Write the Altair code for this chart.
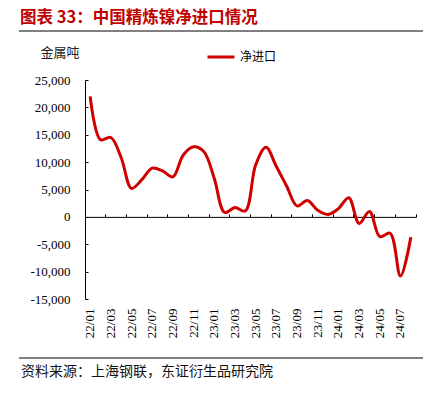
import altair as alt
import pandas as pd

# ---------------- data ----------------
months = ['22/01', '22/02', '22/03', '22/04', '22/05', '22/06', '22/07', '22/08',
          '22/09', '22/10', '22/11', '22/12', '23/01', '23/02', '23/03', '23/04',
          '23/05', '23/06', '23/07', '23/08', '23/09', '23/10', '23/11', '23/12',
          '24/01', '24/02', '24/03', '24/04', '24/05', '24/06', '24/07', '24/08']
net_import = [22000, 14100, 14500, 10800, 5200, 6800, 8900, 8400,
              7300, 11300, 12800, 11900, 7000, 800, 1700, 1100,
              9500, 12700, 9200, 5600, 2000, 3000, 1200, 450,
              1500, 3500, -1200, 1000, -3600, -3000, -10800, -3700]
series_name = '净进口'
y_ticks = [-15000, -10000, -5000, 0, 5000, 10000, 15000, 20000, 25000]
title_text = '图表 33：中国精炼镍净进口情况'
unit_text = '金属吨'
source_text = '资料来源：上海钢联，东证衍生品研究院'

# ---------------- layout ----------------
W, H = 331, 219
ymin, ymax = -15000, 25000
zero_px = H * ymax / (ymax - ymin)
line_color = '#d00000'
serif = 'Liberation Serif'
cjk = 'Noto Sans CJK SC'

df = pd.DataFrame({'month': months, 'value': net_import,
                   'series': [series_name] * len(months)})

xscale = alt.Scale(type='band', paddingInner=0, paddingOuter=0, domain=months)
yscale = alt.Scale(domain=[ymin, ymax], nice=False, zero=False)

label_months = months[0::2]
tick_months = months[1::2]

base = alt.Chart(df)

line = base.mark_line(interpolate='catmull-rom', strokeWidth=3).encode(
    x=alt.X('month:O', scale=xscale, bandPosition=0.5, sort=months,
            axis=alt.Axis(orient='bottom', values=label_months, labelAngle=270,
                          labelFont=serif, labelFontSize=13, labelColor='#000',
                          labelPadding=9, ticks=False, tickSize=0, domain=False,
                          title=None, labelAlign='right', labelBaseline='middle',
                          grid=False)),
    y=alt.Y('value:Q', scale=yscale,
            axis=alt.Axis(orient='left', values=y_ticks,
                          labelExpr="replace(format(datum.value, ','), '\u2212', '-')",
                          labelFont=serif, labelFontSize=13, labelColor='#000',
                          labelPadding=15, ticks=False, tickSize=0, domain=True,
                          domainColor='#000', domainWidth=1, title=None, grid=False)),
    color=alt.Color('series:N', scale=alt.Scale(domain=[series_name], range=[line_color]),
                    legend=alt.Legend(orient='none', legendX=121, legendY=-38, title=None,
                                      symbolType='stroke', symbolSize=729,
                                      symbolStrokeWidth=3, labelFont=cjk,
                                      labelFontSize=12, labelColor='#000',
                                      padding=0, labelOffset=4)),
)

axes_layer = base.mark_line(strokeOpacity=0).encode(
    x=alt.X('month:O', scale=xscale, bandPosition=0.5, sort=months,
            axis=alt.Axis(orient='top', offset=-zero_px, values=tick_months,
                          bandPosition=1, tickExtra=False, labels=False, ticks=True,
                          tickSize=3, tickColor='#000', tickWidth=1, domain=True,
                          domainColor='#000', domainWidth=1, title=None, grid=False)),
    y=alt.Y('value:Q', scale=yscale,
            axis=alt.Axis(orient='right', offset=-W, values=y_ticks, labels=False,
                          ticks=True, tickSize=3, tickColor='#000', tickWidth=1,
                          domain=False, title=None, grid=False)),
)

one = alt.Data(values=[{'k': 1}])

title = alt.Chart(one).mark_text(
    text=title_text, align='left', baseline='middle', font=cjk, fontSize=16.5,
    fontWeight='bold', color='#c00000'
).encode(x=alt.value(-65), y=alt.value(-62))

top_rule = alt.Chart(one).mark_rule(color='#808080', strokeWidth=2).encode(
    x=alt.value(-66), x2=alt.value(338), y=alt.value(-49))

unit = alt.Chart(one).mark_text(
    text=unit_text, align='center', baseline='middle', font=cjk, fontSize=13,
    color='#222'
).encode(x=alt.value(-25), y=alt.value(-27))

bottom_rule = alt.Chart(one).mark_rule(color='#808080', strokeWidth=2).encode(
    x=alt.value(-66), x2=alt.value(338), y=alt.value(278))

source = alt.Chart(one).mark_text(
    text=source_text, align='left', baseline='middle', font=cjk, fontSize=14,
    color='#111'
).encode(x=alt.value(-64), y=alt.value(292))

chart = alt.layer(
    axes_layer, line, title, top_rule, unit, bottom_rule, source
).resolve_axis(
    x='independent', y='independent'
).properties(
    width=W, height=H,
    padding={'left': 77, 'top': 72, 'right': 13, 'bottom': 88},
    autosize=alt.AutoSizeParams(type='none'),
).configure_view(stroke=None)

chart.save('out.html', embed_options={'renderer': 'svg', 'actions': False})
